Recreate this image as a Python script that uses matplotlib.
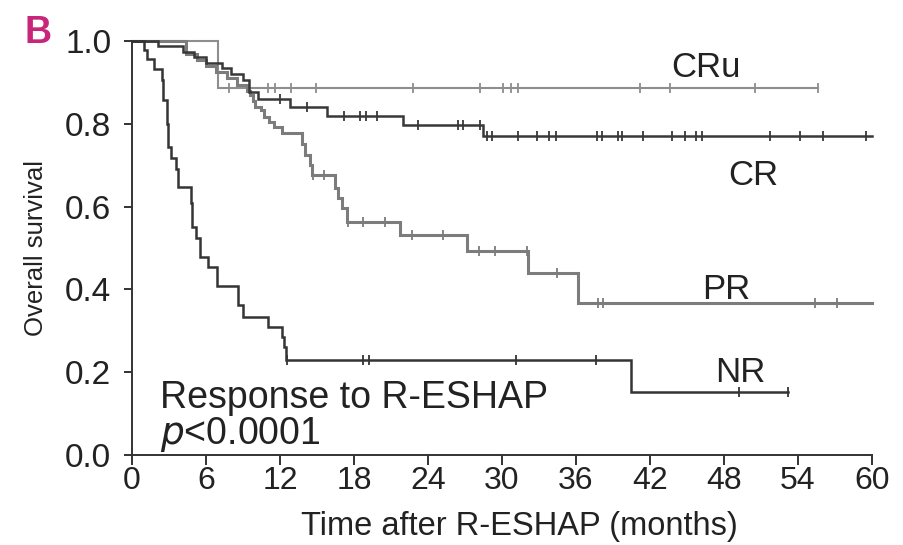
import numpy as np
import matplotlib
matplotlib.use("Agg")
import matplotlib.pyplot as plt
from matplotlib import font_manager

# Kaplan-Meier step data (months, survival)
cru_t = [0, 7.0]
cru_s = [1.0, 0.886]
cru_end = 55.6
cru_cens = [7.9, 11.0, 11.6, 12.9, 14.9, 22.8, 28.2, 30.1, 30.7, 31.3,
            41.2, 43.6, 50.5, 55.6]

cr_t = [0, 2.1, 4.1, 5.0, 6.0, 7.3, 8.0, 9.0, 9.5, 10.2, 12.8, 15.8, 22.0, 28.5]
cr_s = [1.0, 0.987, 0.974, 0.961, 0.948, 0.935, 0.92, 0.905, 0.877, 0.859,
        0.84, 0.82, 0.797, 0.771]
cr_end = 60
cr_cens = [12.0, 14.2, 17.2, 18.5, 19.0, 19.9, 23.2, 26.4, 26.8, 28.2, 28.8,
           29.2, 31.3, 32.8, 33.8, 34.4, 37.7, 38.1, 39.4, 39.7, 41.4, 43.8,
           44.8, 45.7, 46.2, 51.7, 54.2, 56.0, 59.5]

pr_t = [0, 4.4, 5.3, 6.0, 6.8, 7.7, 8.5, 9.3, 9.6, 9.8, 10.0, 10.5, 10.7,
        11.1, 11.5, 12.2, 13.8, 14.0, 14.4, 14.6, 16.5, 16.7, 17.0, 17.4,
        21.7, 27.2, 32.1, 36.2]
pr_s = [1.0, 0.97, 0.955, 0.94, 0.925, 0.91, 0.895, 0.88, 0.87, 0.855, 0.84,
        0.833, 0.816, 0.804, 0.792, 0.778, 0.751, 0.725, 0.70, 0.676, 0.645,
        0.62, 0.597, 0.563, 0.531, 0.493, 0.44, 0.367]
pr_end = 60
pr_cens = [14.7, 15.6, 17.5, 18.7, 20.5, 22.7, 25.2, 28.1, 29.4, 32.0, 34.5,
           37.8, 38.2, 55.4, 57.2]

nr_t = [0, 1.0, 1.2, 1.8, 2.4, 2.5, 2.8, 2.9, 3.2, 3.6, 3.7, 4.8, 4.9, 5.2,
        5.5, 6.2, 6.9, 8.6, 9.0, 11.0, 12.2, 12.3, 12.5, 40.5]
nr_s = [1.0, 0.978, 0.956, 0.933, 0.906, 0.857, 0.80, 0.744, 0.717, 0.69,
        0.647, 0.609, 0.551, 0.524, 0.478, 0.454, 0.408, 0.362, 0.333, 0.309,
        0.285, 0.261, 0.229, 0.152]
nr_end = 53.2
nr_cens = [12.6, 18.7, 19.2, 31.1, 37.6, 49.2, 53.2]

x_ticks = [0, 6, 12, 18, 24, 30, 36, 42, 48, 54, 60]
y_ticks = [0.0, 0.2, 0.4, 0.6, 0.8, 1.0]

names = {f.name for f in font_manager.fontManager.ttflist}
narrow = "Liberation Sans Narrow" in names
plt.rcParams["font.family"] = ["Liberation Sans", "DejaVu Sans"]


def surv_at(times, surv, t):
    i = np.searchsorted(times, t, side="right") - 1
    return np.array(surv)[i]


def km(ax, t, s, end, cens, color, lw):
    tt = list(t) + [end]
    ss = list(s) + [s[-1]]
    ax.step(tt, ss, where="post", color=color, lw=lw, clip_on=False,
            solid_joinstyle="miter")
    cy = surv_at(np.array(t), s, np.array(cens))
    ax.plot(cens, cy, ls="none", marker="|", ms=6.5, mew=1.3, color=color,
            clip_on=False)


fig = plt.figure(figsize=(9.04, 5.45), dpi=100)
ax = fig.add_axes([0.146, 0.165, 0.8186, 0.7596])

km(ax, cru_t, cru_s, cru_end, cru_cens, "#8e8e8e", 1.5)
km(ax, pr_t, pr_s, pr_end, pr_cens, "#7c7c7c", 2.2)
km(ax, cr_t, cr_s, cr_end, cr_cens, "#383838", 1.8)
km(ax, nr_t, nr_s, nr_end, nr_cens, "#343434", 1.8)

ax.set_xlim(0, 60)
ax.set_ylim(0, 1.0)
ax.set_xticks(x_ticks)
ax.set_yticks(y_ticks)
ax.set_yticklabels(["%.1f" % v for v in y_ticks])
for sp in ["top", "right"]:
    ax.spines[sp].set_visible(False)
for sp in ["left", "bottom"]:
    ax.spines[sp].set_linewidth(1.4)
    ax.spines[sp].set_color("#333333")
ax.tick_params(axis="x", direction="out", length=7, width=1.4,
               color="#333333", labelsize=23, pad=1, labelcolor="#222222")
ax.tick_params(axis="y", direction="out", length=6, width=1.4,
               color="#333333", labelsize=24, pad=9, labelcolor="#222222")

ax.set_xlabel("Time after R-ESHAP (months)", fontsize=23.5, color="#222222",
              labelpad=10)
ax.xaxis.set_label_coords(0.524, -0.135)
if narrow:
    ax.set_ylabel("Overall survival", fontsize=22, color="#222222",
                  family=["Liberation Sans Narrow", "DejaVu Sans"], labelpad=10)
else:
    ax.set_ylabel("Overall survival", fontsize=18.5, color="#222222",
                  labelpad=12)

lab = dict(fontsize=25, color="#222222", ha="center", va="center")
ax.text(46.5, 0.937, "CRu", **lab)
ax.text(50.4, 0.676, "CR", **lab)
ax.text(48.2, 0.399, "PR", **lab)
ax.text(49.3, 0.20, "NR", **lab)

ax.text(2.27, 0.113, "Response to R-ESHAP", fontsize=27, color="#222222",
        ha="left", va="baseline")
ax.text(2.27, 0.027, r"$\it{p}$<0.0001", fontsize=27, color="#222222",
        ha="left", va="baseline")

fig.text(25 / 904, 1 - 43 / 545, "B", fontsize=27, fontweight="bold",
         color="#c8267a", ha="left", va="baseline")

fig.savefig("out.png", dpi=100)
